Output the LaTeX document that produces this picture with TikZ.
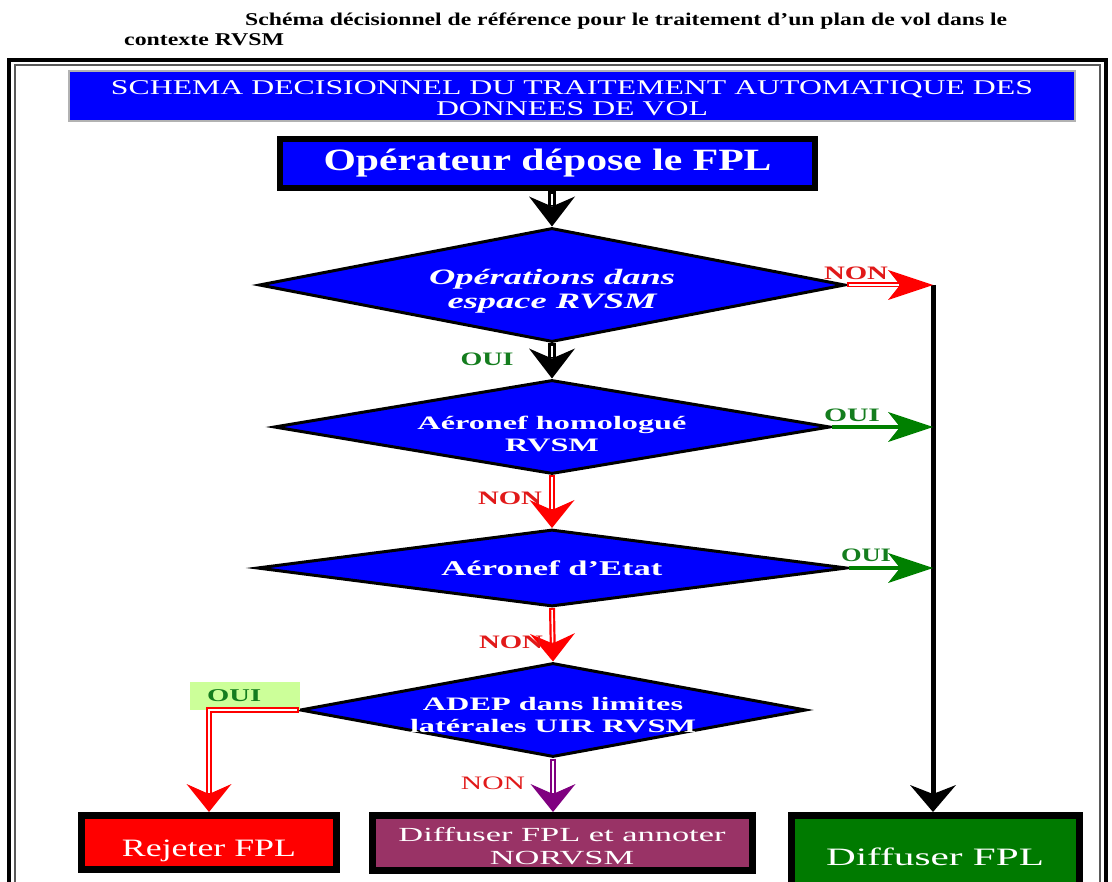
\documentclass[tikz,border=0pt]{standalone}
\usepackage{fontspec}
\setmainfont{Liberation Serif}
\usepackage{graphicx}
\usetikzlibrary{shapes.geometric,arrows.meta}
\definecolor{fblue}{RGB}{0,0,255}
\definecolor{fred}{RGB}{255,0,0}
\definecolor{fgreen}{RGB}{0,128,0}
\definecolor{fgreenbox}{RGB}{0,122,0}
\definecolor{fpurple}{RGB}{153,51,102}
\definecolor{fpurplearrow}{RGB}{128,0,128}
\definecolor{flight}{RGB}{204,255,153}
\definecolor{ftgreen}{RGB}{20,125,30}
\definecolor{ftred}{RGB}{225,25,25}
\newcommand\fw[2]{\resizebox{#1}{\height}{#2}}
\newcommand\tl[1]{\begin{tabular}{@{}c@{}}#1\end{tabular}}
\newcommand\fs[2]{\fontsize{#1}{#2}\selectfont}
\tikzset{
  txt/.style={inner sep=0pt},
  bar/.style={rectangle, fill=fblue, draw=gray!60, line width=1.5pt, inner sep=0pt},
  opbox/.style={rectangle, fill=fblue, draw=black, line width=6pt, text=white, inner sep=0pt},
  dia/.style={diamond, fill=fblue, draw=black, line width=3pt, inner sep=0pt},
  dtext/.style={text=white, inner sep=0pt},
  endbox/.style={rectangle, draw=black, line width=7pt, inner sep=0pt},
  lab/.style={inner sep=0pt, font=\bfseries\fs{19}{20}},
  kstem/.style={draw=black, line width=8pt, -{Stealth[length=30pt,width=46pt,inset=10pt,line width=0pt]}},
  kcore/.style={draw=white, line width=2pt, shorten >=21pt, shorten <=3pt},
  vstem/.style={draw=#1, line width=6pt, -{Stealth[length=28pt,width=45pt,inset=10pt,line width=0pt]}},
  vcore/.style={draw=white, line width=1.6pt, shorten >=19pt, shorten <=2pt},
  hstem/.style={draw=#1, line width=5pt, -{Stealth[length=45pt,width=30pt,inset=12pt,line width=0pt]}},
  hcore/.style={draw=white, line width=1.4pt, shorten >=34pt, shorten <=2pt},
  gline/.style={draw=fgreen, line width=4pt, -{Stealth[length=45pt,width=30pt,inset=12pt,line width=0pt]}},
  kline/.style={draw=black, line width=5pt, -{Stealth[length=27pt,width=46pt,inset=9pt,line width=0pt]}},
}
\begin{document}
\begin{tikzpicture}[x=1pt,y=-1pt]
\useasboundingbox (0,0) rectangle (1112,882);
\fill[white] (0,0) rectangle (1112,882);
% page title
\node[txt, anchor=west, font=\bfseries\fs{18}{18}] (t1) at (245,21) {\fw{762pt}{Schéma décisionnel de référence pour le traitement d’un plan de vol dans le}};
\node[txt, anchor=west, font=\bfseries\fs{18}{18}] (t2) at (124,39.5) {\fw{160pt}{contexte RVSM}};
% frame
\draw[line width=4pt] (9,60) rectangle (1106,900);
\draw[line width=1.5pt, gray!70!black] (15,65) rectangle (1100,900);
% title bar
\node[bar, minimum width=1006pt, minimum height=50pt,
  label={[dtext, font=\fs{21}{21}, yshift=-5pt]center:{\fw{922pt}{\tl{SCHEMA DECISIONNEL DU TRAITEMENT AUTOMATIQUE DES\\DONNEES DE VOL}}}}] (bar) at (572,96) {};
% operator box
\node[opbox, minimum width=535pt, minimum height=49pt, font=\bfseries\fs{31}{32}] (op) at (547.5,163.5)
  {\fw{448pt}{Opérateur dépose le FPL}};
% decisions
\node[dia, minimum width=586pt, minimum height=114pt,
  label={[dtext, font=\bfseries\itshape\fs{22}{24}, yshift=-7pt]center:{\fw{246pt}{\tl{Opérations dans\\espace RVSM}}}}] (d1) at (552,285) {};
\node[dia, minimum width=556pt, minimum height=94pt,
  label={[dtext, font=\bfseries\fs{19}{22}, yshift=-9pt]center:{\fw{269pt}{\tl{Aéronef homologué\\RVSM}}}}] (d2) at (552,427) {};
\node[dia, minimum width=590pt, minimum height=77pt,
  label={[dtext, font=\bfseries\fs{21}{22}]center:{\fw{221pt}{Aéronef d’Etat}}}] (d3) at (552,568) {};
\node[dia, minimum width=506pt, minimum height=94pt,
  label={[dtext, font=\bfseries\fs{19}{22}, yshift=-7pt]center:{\fw{286pt}{\tl{ADEP dans limites\\latérales UIR RVSM}}}}] (d4) at (553,710) {};
% end boxes
\node[endbox, fill=fred, minimum width=255pt, minimum height=54pt,
  label={[dtext, font=\fs{25}{26}, yshift=-8pt]center:{\fw{174pt}{Rejeter FPL}}}] (rej) at (209,842.5) {};
\node[endbox, fill=fpurple, minimum width=380pt, minimum height=55pt,
  label={[dtext, font=\fs{20}{23}, yshift=-5pt]center:{\fw{327pt}{\tl{Diffuser FPL et annoter\\NORVSM}}}}] (ann) at (562,843) {};
\node[endbox, fill=fgreenbox, minimum width=288pt, minimum height=80pt,
  label={[dtext, font=\fs{25}{26}, yshift=-1pt]center:{\fw{218pt}{Diffuser FPL}}}] (dif) at (935,855.5) {};
\coordinate (rv) at (933,285);
% OUI box
\node[fill=flight, minimum width=110pt, minimum height=28pt, text width=76pt, inner xsep=17pt, inner ysep=0pt, align=left,
  text=ftgreen, font=\bfseries\fs{18}{20}, anchor=south west] (ouibox) at (190,710) {\fw{54pt}{OUI}};
% connectors
\draw[kstem] (op.south -| d1.north) -- (d1.north);
\draw[kcore] (op.south -| d1.north) -- (d1.north);
\draw[kstem] (d1.south) -- (d2.north);
\draw[kcore] (d1.south) -- (d2.north);
\draw[vstem=fred] (d2.south) -- (d3.north);
\draw[vcore] (d2.south) -- (d3.north);
\draw[vstem=fred] (d3.south) -- (d4.north);
\draw[vcore] (d3.south) -- (d4.north);
\draw[vstem=fred] (d4.west) -| (rej.north);
\draw[vcore] (d4.west) -| (rej.north);
\draw[vstem=fpurplearrow] (d4.south) -- (d4.south |- ann.north);
\draw[vcore] (d4.south) -- (d4.south |- ann.north);
\draw[kline] (rv) -- (rv |- dif.north);
\draw[hstem=fred] (d1.east) -- (rv);
\draw[hcore] (d1.east) -- (rv);
\draw[gline] (d2.east) -- (d2.east -| rv);
\draw[gline] (d3.east) -- (d3.east -| rv);
% labels
\node[lab, text=ftgreen] (l1) at (487,359) {\fw{53pt}{OUI}};
\node[lab, text=ftred] (l2) at (510,498) {\fw{64pt}{NON}};
\node[lab, text=ftred] (l3) at (511,642) {\fw{64pt}{NON}};
\node[lab, text=ftred, font=\fs{19}{20}] (l4) at (493,783) {\fw{64pt}{NON}};
\node[lab, text=ftred] (l5) at (856,273) {\fw{64pt}{NON}};
\node[lab, text=ftgreen] (l6) at (852,415) {\fw{56pt}{OUI}};
\node[lab, text=ftgreen] (l7) at (866,555) {\fw{50pt}{OUI}};
\end{tikzpicture}
\end{document}
